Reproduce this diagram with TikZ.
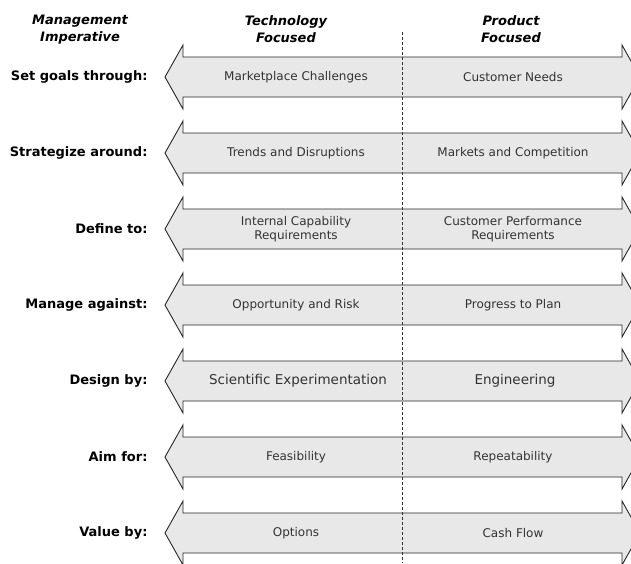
\documentclass[tikz,border=0pt]{standalone}
\usepackage{fontspec}
\setmainfont{DejaVu Sans}
\usetikzlibrary{positioning}

\begin{document}
\begin{tikzpicture}[x=1pt,y=-1pt,
 hdr/.style={font=\fontsize{13}{17}\selectfont\bfseries\itshape,align=center},
 lbl/.style={anchor=east,font=\fontsize{13}{15}\selectfont\bfseries},
 cell/.style={font=\fontsize{12}{14}\selectfont,text=black!80,align=center},
 bigcell/.style={cell,font=\fontsize{13.5}{15}\selectfont},
 twoway/.pic={\path[draw=black!85,fill=black!9,line width=0.9pt,line join=miter]
   (-237.5,0) -- (-219.5,-32) -- (-219.5,-20) -- (219.5,-20) -- (219.5,-32) -- (237.5,0)
   -- (219.5,32) -- (219.5,20) -- (-219.5,20) -- (-219.5,32) -- cycle;}]
\useasboundingbox (0,0) rectangle (631,563);
\clip (0,0) rectangle (631,563);
\node[hdr] (hm) at (80,29.5) {Management\\Imperative};
\node[hdr] (ht) at (286,29.5) {Technology\\Focused};
\node[hdr] (hp) at (511,29.5) {Product\\Focused};
% one double arrow per imperative
\pic at (402.5,77) {twoway};
\node[lbl] (l1) at (151,77) {Set goals through:};
\node[cell] (t1) at (296,77) {Marketplace Challenges}; \node[cell] (p1) at (513,77) {Customer Needs};
\pic at (402.5,153) {twoway};
\node[lbl] (l2) at (151,153) {Strategize around:};
\node[cell] (t2) at (296,153) {Trends and Disruptions}; \node[cell] (p2) at (513,153) {Markets and Competition};
\pic at (402.5,229) {twoway};
\node[lbl] (l3) at (151,229) {Define to:};
\node[cell] (t3) at (296,229) {Internal Capability\\Requirements}; \node[cell] (p3) at (513,229) {Customer Performance\\Requirements};
\pic at (402.5,305) {twoway};
\node[lbl] (l4) at (151,305) {Manage against:};
\node[cell] (t4) at (296,305) {Opportunity and Risk}; \node[cell] (p4) at (513,305) {Progress to Plan};
\pic at (402.5,381) {twoway};
\node[lbl] (l5) at (151,381) {Design by:};
\node[bigcell] (t5) at (298,381) {Scientific Experimentation}; \node[bigcell] (p5) at (515,381) {Engineering};
\pic at (402.5,457) {twoway};
\node[lbl] (l6) at (151,457) {Aim for:};
\node[cell] (t6) at (296,457) {Feasibility}; \node[cell] (p6) at (513,457) {Repeatability};
\pic at (402.5,533) {twoway};
\node[lbl] (l7) at (151,533) {Value by:};
\node[cell] (t7) at (296,533) {Options}; \node[cell] (p7) at (513,533) {Cash Flow};
% divider between the two foci
\coordinate (dtop) at (402.5,32); \coordinate (dbot) at (402.5,563);
\draw[black!80,line width=0.8pt,dash pattern=on 3pt off 2pt] (dtop) -- (dbot);
\end{tikzpicture}
\end{document}
